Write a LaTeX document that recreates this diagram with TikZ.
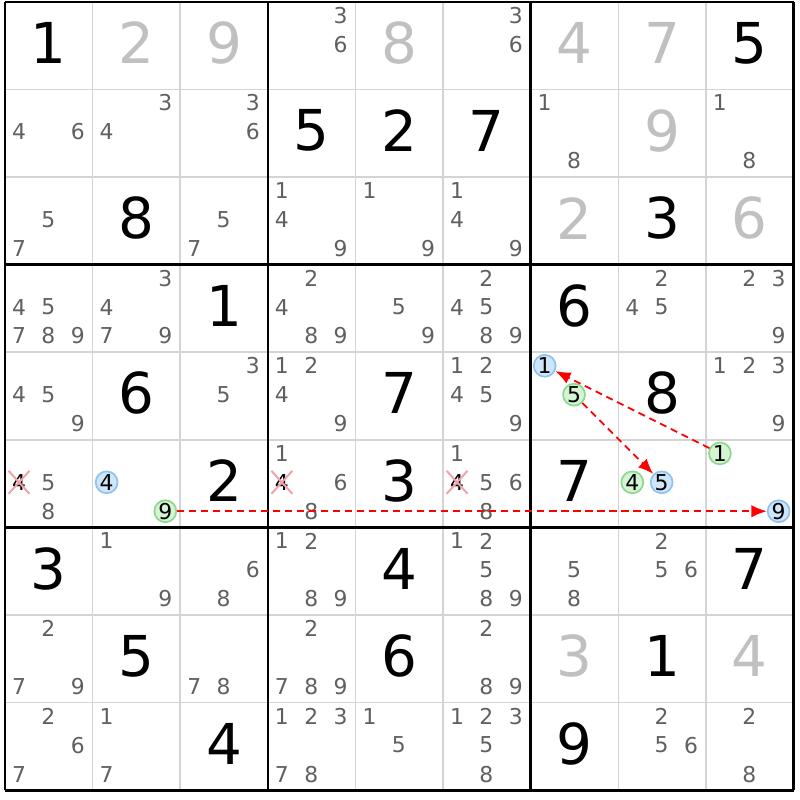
\documentclass[tikz,border=0pt]{standalone}
\usepackage{fontspec}
\setmainfont{DejaVu Sans}
\usetikzlibrary{arrows.meta,shapes.misc}
\definecolor{solvedgray}{HTML}{C0C0C0}
\definecolor{candgray}{HTML}{606060}
\definecolor{gridgray}{HTML}{D4D4D4}
\definecolor{bluefill}{HTML}{CFE5FA}
\definecolor{blueedge}{HTML}{8EC2F0}
\definecolor{greenfill}{HTML}{D4F4D4}
\definecolor{greenedge}{HTML}{8ED88E}
\definecolor{xpink}{HTML}{F4A2AA}
\newcommand{\bigdigit}{\fontsize{18.3}{20}\selectfont}
\newcommand{\smalldigit}{\fontsize{7.1}{8}\selectfont}
\tikzset{
  given/.style={font=\bigdigit, text=black, inner sep=0pt},
  solved/.style={font=\bigdigit, text=solvedgray, inner sep=0pt},
  cand/.style={font=\smalldigit, text=candgray, inner sep=0pt},
  struck/.style={cross out, draw=xpink, line width=0.65pt, font=\smalldigit, text=black, inner sep=0.8pt},
  onnote/.style={circle, draw=blueedge, fill=bluefill, line width=0.55pt, minimum size=0.25cm, inner sep=0pt, font=\smalldigit, text=black},
  offnote/.style={circle, draw=greenedge, fill=greenfill, line width=0.55pt, minimum size=0.25cm, inner sep=0pt, font=\smalldigit, text=black},
  cellline/.style={gridgray, line width=0.5pt},
  boxline/.style={black, line width=0.8pt},
  linkarrow/.style={red, line width=0.6pt, dash pattern=on 2.3pt off 1.6pt, -{Latex[length=5pt,width=4pt]}}
}
\newcommand{\gv}[3]{\node[given] (n#1#2) at (#2-0.5, 9.53-#1) {#3};}
\newcommand{\sv}[3]{\node[solved] (n#1#2) at (#2-0.5, 9.53-#1) {#3};}
\newcommand{\pin}[5]{\node[#1] (#2) at ({#4-0.84+0.335*mod(#5-1,3)}, {9.845-#3-0.33*floor((#5-1)/3)}) {#5};}
\newcommand{\cands}[3]{\foreach \d in {#3} {\pin{cand}{c#1#2\d}{#1}{#2}{\d}}}
\begin{document}
\begin{tikzpicture}
\useasboundingbox (-0.057,-0.111) rectangle (9.074,9.020);
\fill[white] (-0.057,-0.111) rectangle (9.074,9.020);
\foreach \i in {0,...,9} {\draw[cellline] (\i,0) -- (\i,9); \draw[cellline] (0,\i) -- (9,\i);}
\foreach \i in {0,3,6,9} {\draw[boxline] (\i,0) -- (\i,9); \draw[boxline] (0,\i) -- (9,\i);}

\gv{1}{1}{1} \sv{1}{2}{2} \sv{1}{3}{9} \cands{1}{4}{3,6} \sv{1}{5}{8} \cands{1}{6}{3,6} \sv{1}{7}{4} \sv{1}{8}{7} \gv{1}{9}{5}
\cands{2}{1}{4,6} \cands{2}{2}{3,4} \cands{2}{3}{3,6} \gv{2}{4}{5} \gv{2}{5}{2} \gv{2}{6}{7} \cands{2}{7}{1,8} \sv{2}{8}{9} \cands{2}{9}{1,8}
\cands{3}{1}{5,7} \gv{3}{2}{8} \cands{3}{3}{5,7} \cands{3}{4}{1,4,9} \cands{3}{5}{1,9} \cands{3}{6}{1,4,9} \sv{3}{7}{2} \gv{3}{8}{3} \sv{3}{9}{6}
\cands{4}{1}{4,5,7,8,9} \cands{4}{2}{3,4,7,9} \gv{4}{3}{1} \cands{4}{4}{2,4,8,9} \cands{4}{5}{5,9} \cands{4}{6}{2,4,5,8,9} \gv{4}{7}{6} \cands{4}{8}{2,4,5} \cands{4}{9}{2,3,9}
\cands{5}{1}{4,5,9} \gv{5}{2}{6} \cands{5}{3}{3,5} \cands{5}{4}{1,2,4,9} \gv{5}{5}{7} \cands{5}{6}{1,2,4,5,9} \gv{5}{8}{8} \cands{5}{9}{1,2,3,9}
\pin{onnote}{b571}{5}{7}{1} \pin{offnote}{g575}{5}{7}{5}
\pin{struck}{x614}{6}{1}{4} \cands{6}{1}{5,8}
\pin{onnote}{b624}{6}{2}{4} \pin{offnote}{g629}{6}{2}{9}
\gv{6}{3}{2}
\pin{struck}{x644}{6}{4}{4} \cands{6}{4}{1,6,8}
\gv{6}{5}{3}
\pin{struck}{x664}{6}{6}{4} \cands{6}{6}{1,5,6,8}
\gv{6}{7}{7}
\pin{offnote}{g684}{6}{8}{4} \pin{onnote}{b685}{6}{8}{5}
\pin{offnote}{g691}{6}{9}{1} \pin{onnote}{b699}{6}{9}{9}
\gv{7}{1}{3} \cands{7}{2}{1,9} \cands{7}{3}{6,8} \cands{7}{4}{1,2,8,9} \gv{7}{5}{4} \cands{7}{6}{1,2,5,8,9} \cands{7}{7}{5,8} \cands{7}{8}{2,5,6} \gv{7}{9}{7}
\cands{8}{1}{2,7,9} \gv{8}{2}{5} \cands{8}{3}{7,8} \cands{8}{4}{2,7,8,9} \gv{8}{5}{6} \cands{8}{6}{2,8,9} \sv{8}{7}{3} \gv{8}{8}{1} \sv{8}{9}{4}
\cands{9}{1}{2,6,7} \cands{9}{2}{1,7} \gv{9}{3}{4} \cands{9}{4}{1,2,3,7,8} \cands{9}{5}{1,5} \cands{9}{6}{1,2,3,5,8} \gv{9}{7}{9} \cands{9}{8}{2,5,6} \cands{9}{9}{2,8}

\draw[linkarrow] (g691) -- (b571);
\draw[linkarrow] (g575) -- (b685);
\draw[linkarrow] (g629) -- (b699);
\end{tikzpicture}
\end{document}
